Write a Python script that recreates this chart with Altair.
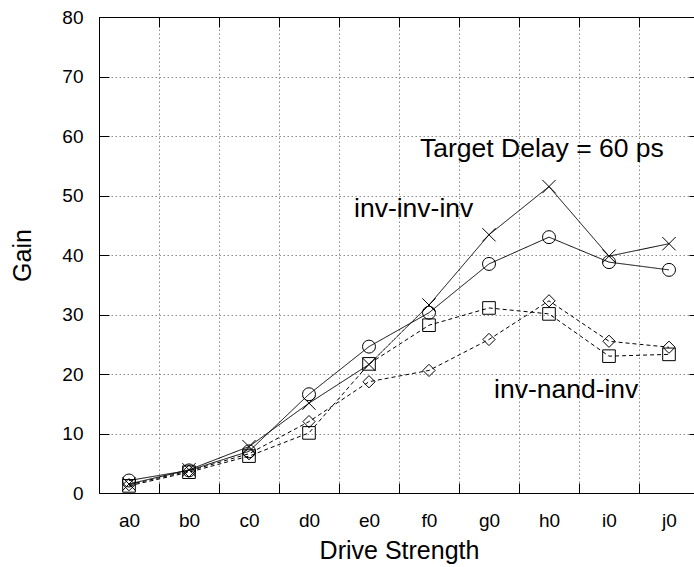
import altair as alt
import pandas as pd

categories = ["a0", "b0", "c0", "d0", "e0", "f0", "g0", "h0", "i0", "j0"]
cross_series = [1.5, 3.9, 7.8, 15.1, 21.6, 31.6, 43.4, 51.5, 39.8, 41.9]
circle_series = [2.1, 3.8, 7.0, 16.6, 24.6, 30.3, 38.5, 43.0, 38.8, 37.5]
square_series = [1.2, 3.5, 6.2, 10.1, 21.7, 28.2, 31.1, 30.1, 23.0, 23.3]
diamond_series = [1.4, 3.7, 6.6, 12.0, 18.7, 20.6, 25.8, 32.3, 25.5, 24.5]
series_names = ["cross", "circle", "square", "diamond"]
y_ticks = [0, 10, 20, 30, 40, 50, 60, 70, 80]

rows = []
for name, vals in zip(series_names, [cross_series, circle_series, square_series, diamond_series]):
    for c, v in zip(categories, vals):
        rows.append({"cat": c, "val": v, "series": name})
df = pd.DataFrame(rows)

FONT = "Liberation Sans"
W, H = 595, 476
xscale = alt.Scale(type="band", domain=categories, range=[0, 600], paddingInner=0, paddingOuter=0)
yscale = alt.Scale(domain=[0, 80], nice=False, zero=True)
grid_style = dict(grid=True, gridColor="#8a8a8a", gridDash=[1.5, 2.5], gridWidth=1)

# main lines with label axes + grid
lines = alt.Chart(df).mark_line(color="black", strokeWidth=1).encode(
    x=alt.X("cat:N", scale=xscale, sort=categories,
            axis=alt.Axis(orient="bottom", domain=True, domainColor="black", domainWidth=1,
                          ticks=False, tickSize=0, tickBand="extent", labelAngle=0,
                          labelFont=FONT, labelFontSize=19, labelColor="black", labelPadding=18,
                          title="Drive Strength", titleFont=FONT, titleFontSize=25,
                          titleFontWeight="normal", titleColor="black", titleX=300, titleY=65,
                          titleBaseline="alphabetic", titleAlign="center", **grid_style)),
    y=alt.Y("val:Q", scale=yscale,
            axis=alt.Axis(orient="left", values=y_ticks, domain=True, domainColor="black",
                          domainWidth=1, ticks=False, tickSize=0,
                          labelFont=FONT, labelFontSize=19, labelColor="black", labelPadding=16,
                          title="Gain", titleFont=FONT, titleFontSize=25, titleFontWeight="normal",
                          titleColor="black", titleAngle=-90, titleX=-69, titleY=238,
                          titleBaseline="alphabetic", titleAlign="center", **grid_style)),
    detail="series:N",
    strokeDash=alt.StrokeDash("series:N", scale=alt.Scale(domain=series_names,
                              range=[[1, 0], [1, 0], [4, 3], [4, 3]]), legend=None),
)

points = alt.Chart(df).mark_point(filled=False, color="black", strokeWidth=1, opacity=1).encode(
    x=alt.X("cat:N", scale=xscale, sort=categories,
            axis=alt.Axis(orient="bottom", offset=-10, tickSize=10, tickColor="black", tickWidth=1,
                          tickBand="extent", domain=False, labels=False, grid=False, title=None)),
    y=alt.Y("val:Q", scale=yscale,
            axis=alt.Axis(orient="left", offset=-10, tickSize=10, tickColor="black", tickWidth=1,
                          values=y_ticks, domain=False, labels=False, grid=False, title=None)),
    shape=alt.Shape("series:N", scale=alt.Scale(domain=series_names,
                    range=["M-1,-1L1,1M-1,1L1,-1", "circle", "square", "diamond"]), legend=None),
    size=alt.Size("series:N", scale=alt.Scale(domain=series_names, range=[177, 150, 121, 175]),
                  legend=None),
)

ticks_far = alt.Chart(df).mark_point(opacity=0).encode(
    x=alt.X("cat:N", scale=xscale, sort=categories,
            axis=alt.Axis(orient="top", offset=-10, tickSize=10, tickColor="black", tickWidth=1,
                          tickBand="extent", domain=False, labels=False, grid=False, title=None)),
    y=alt.Y("val:Q", scale=yscale,
            axis=alt.Axis(orient="right", offset=-5, tickSize=10, tickColor="black", tickWidth=1,
                          values=y_ticks, domain=False, labels=False, grid=False, title=None)),
)

top_border = alt.Chart(df).mark_point(opacity=0).encode(
    x=alt.X("cat:N", scale=xscale, sort=categories,
            axis=alt.Axis(orient="top", domain=True, domainColor="black", domainWidth=1,
                          ticks=False, tickSize=0, labels=False, grid=False, title=None)),
    y=alt.Y("val:Q", scale=yscale, axis=None),
)

annotations = {"label": ["Target Delay = 60 ps", "inv-inv-inv", "inv-nand-inv"]}
ann_x = [321, 255, 395]
ann_y = [140, 200, 381]

text_layers = []
for lab, px, py in zip(annotations["label"], ann_x, ann_y):
    text_layers.append(
        alt.Chart(pd.DataFrame({"t": [lab]})).mark_text(
            align="left", baseline="alphabetic", font=FONT, fontSize=26.5, color="black"
        ).encode(text="t:N", x=alt.value(px), y=alt.value(py))
    )

chart = alt.layer(lines, points, ticks_far, top_border, *text_layers).resolve_axis(
    x="independent", y="independent"
).properties(
    width=W, height=H,
    padding={"left": 99, "top": 17, "right": 0, "bottom": 74},
    autosize=alt.AutoSizeParams(type="none"),
    background="white",
).configure_view(stroke=None)

chart.save("out.html", embed_options={"renderer": "svg", "actions": False})
